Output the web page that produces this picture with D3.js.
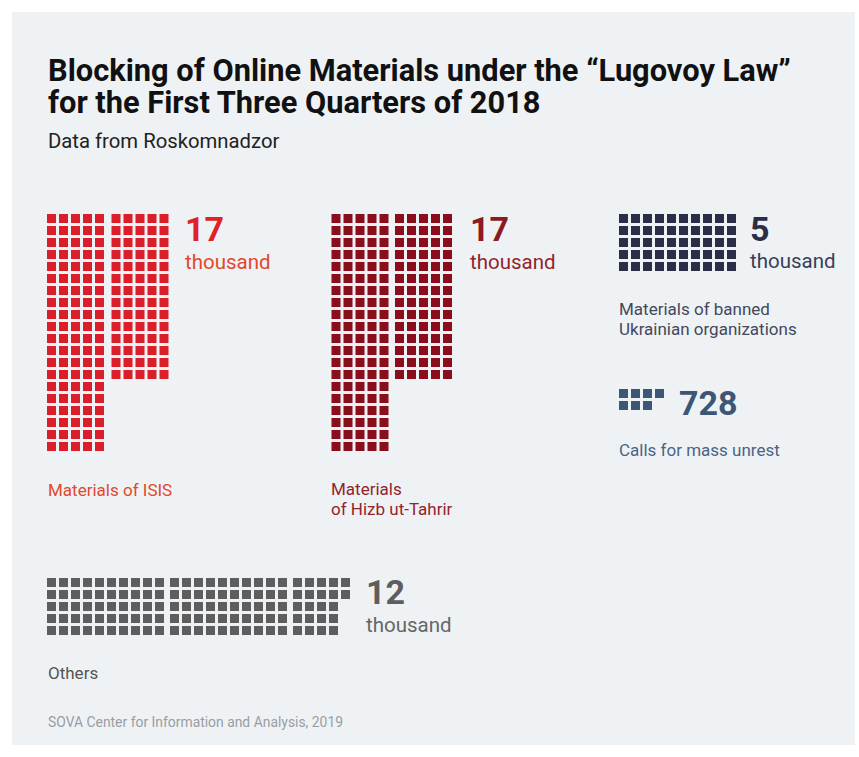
<!DOCTYPE html>
<html>
<head>
<meta charset="utf-8">
<script src="https://cdn.jsdelivr.net/npm/d3@7"></script>
<style>
  html, body { margin: 0; padding: 0; background: #ffffff; }
  svg { display: block; }
  text { font-family: Roboto, "Noto Sans", sans-serif; }
</style>
</head>
<body>
<svg id="chart" width="859" height="757"></svg>
<script>
// ---- Data (one square ≈ 100 blocked materials) ----
const categories = ["Materials of ISIS", "Materials\nof Hizb ut-Tahrir", "Materials of banned\nUkrainian organizations", "Calls for mass unrest", "Others"];
const squareCounts = [170, 170, 50, 7, 122];
const valueLabels = ["17", "17", "5", "728", "12"];
const unitLabels = ["thousand", "thousand", "thousand", "", "thousand"];
const titleLines = ["Blocking of Online Materials under the \u201cLugovoy Law\u201d", "for the First Three Quarters of 2018"];
const subtitle = "Data from Roskomnadzor";
const source = "SOVA Center for Information and Analysis, 2019";

// ---- Layout & style ----
const colors = ["#da1f2b", "#8a0d1c", "#2a2e47", "#3d5676", "#5e5e5e"];
const valueColors = ["#dd2329", "#8b1a22", "#2a2e47", "#3d5676", "#5e5e5e"];
const unitColors = ["#e2482c", "#93242a", "#3a3e56", "#3d5676", "#666666"];
const labelColors = ["#e2482c", "#93242a", "#44485c", "#4a6485", "#555555"];
const pitch = 12, size = 9;
const layout = [
  { x0: 47,  y0: 214, cols: 5,  rows: 20, order: "row", blockStep: 64.5, vx: 185, vy: 241, ux: 185, uy: 269, lx: 48,  ly: 496 },
  { x0: 331.5, y0: 214, cols: 5, rows: 20, order: "row", blockStep: 63.5, vx: 470, vy: 241, ux: 470, uy: 269, lx: 331, ly: 495 },
  { x0: 619, y0: 214, cols: 10, rows: 5,  order: "col", blockStep: 0,   vx: 750, vy: 241, ux: 750, uy: 268, lx: 619, ly: 315 },
  { x0: 619, y0: 389, cols: 10, rows: 2,  order: "col", blockStep: 0,   vx: 679, vy: 415, ux: 0,   uy: 0,   lx: 619, ly: 456 },
  { x0: 47,  y0: 578, cols: 10, rows: 5,  order: "col", blockStep: 123, vx: 366, vy: 604, ux: 366, uy: 632, lx: 48,  ly: 679 }
];

const svg = d3.select("#chart");
svg.append("rect").attr("x", 12).attr("y", 12).attr("width", 843).attr("height", 733).attr("fill", "#eef2f5");

// Title (one text element, two lines)
svg.append("text")
  .attr("x", 48).attr("y", 81)
  .attr("font-size", 30.8).attr("font-weight", 700).attr("fill", "#111111")
  .selectAll("tspan").data(titleLines).join("tspan")
  .attr("x", 48).attr("y", (d, i) => 81 + i * 32)
  .text(d => d);
svg.append("text").attr("x", 48).attr("y", 148)
  .attr("font-size", 20.3).attr("font-weight", 400).attr("fill", "#222222").text(subtitle);

// Waffles
categories.forEach((cat, gi) => {
  const L = layout[gi];
  const cap = L.cols * L.rows;
  const xs = d3.scaleLinear().domain([0, 1]).range([L.x0, L.x0 + pitch]);
  const ys = d3.scaleLinear().domain([0, 1]).range([L.y0, L.y0 + pitch]);
  const cells = d3.range(squareCounts[gi]).map(i => {
    const b = Math.floor(i / cap), j = i % cap;
    let r, c;
    if (L.order === "row") { r = Math.floor(j / L.cols); c = j % L.cols; }
    else { c = Math.floor(j / L.rows); r = j % L.rows; }
    return { b, r, c };
  });
  const g = svg.append("g");
  g.selectAll("rect").data(cells).join("rect")
    .attr("x", d => xs(d.c) + d.b * L.blockStep)
    .attr("y", d => ys(d.r))
    .attr("width", size).attr("height", size)
    .attr("fill", colors[gi]);

  g.append("text").attr("x", L.vx).attr("y", L.vy)
    .attr("font-size", 34).attr("font-weight", 700).attr("fill", valueColors[gi])
    .text(valueLabels[gi]);
  if (unitLabels[gi]) {
    g.append("text").attr("x", L.ux).attr("y", L.uy)
      .attr("font-size", 20.5).attr("font-weight", 400).attr("fill", unitColors[gi])
      .text(unitLabels[gi]);
  }
  g.append("text")
    .attr("font-size", 17).attr("fill", labelColors[gi])
    .selectAll("tspan").data(cat.split("\n")).join("tspan")
    .attr("x", L.lx).attr("y", (d, i) => L.ly + i * 19.5)
    .text(d => d);
});

svg.append("text").attr("x", 48).attr("y", 727)
  .attr("font-size", 13.9).attr("fill", "#9a9da3").text(source);
</script>
</body>
</html>
